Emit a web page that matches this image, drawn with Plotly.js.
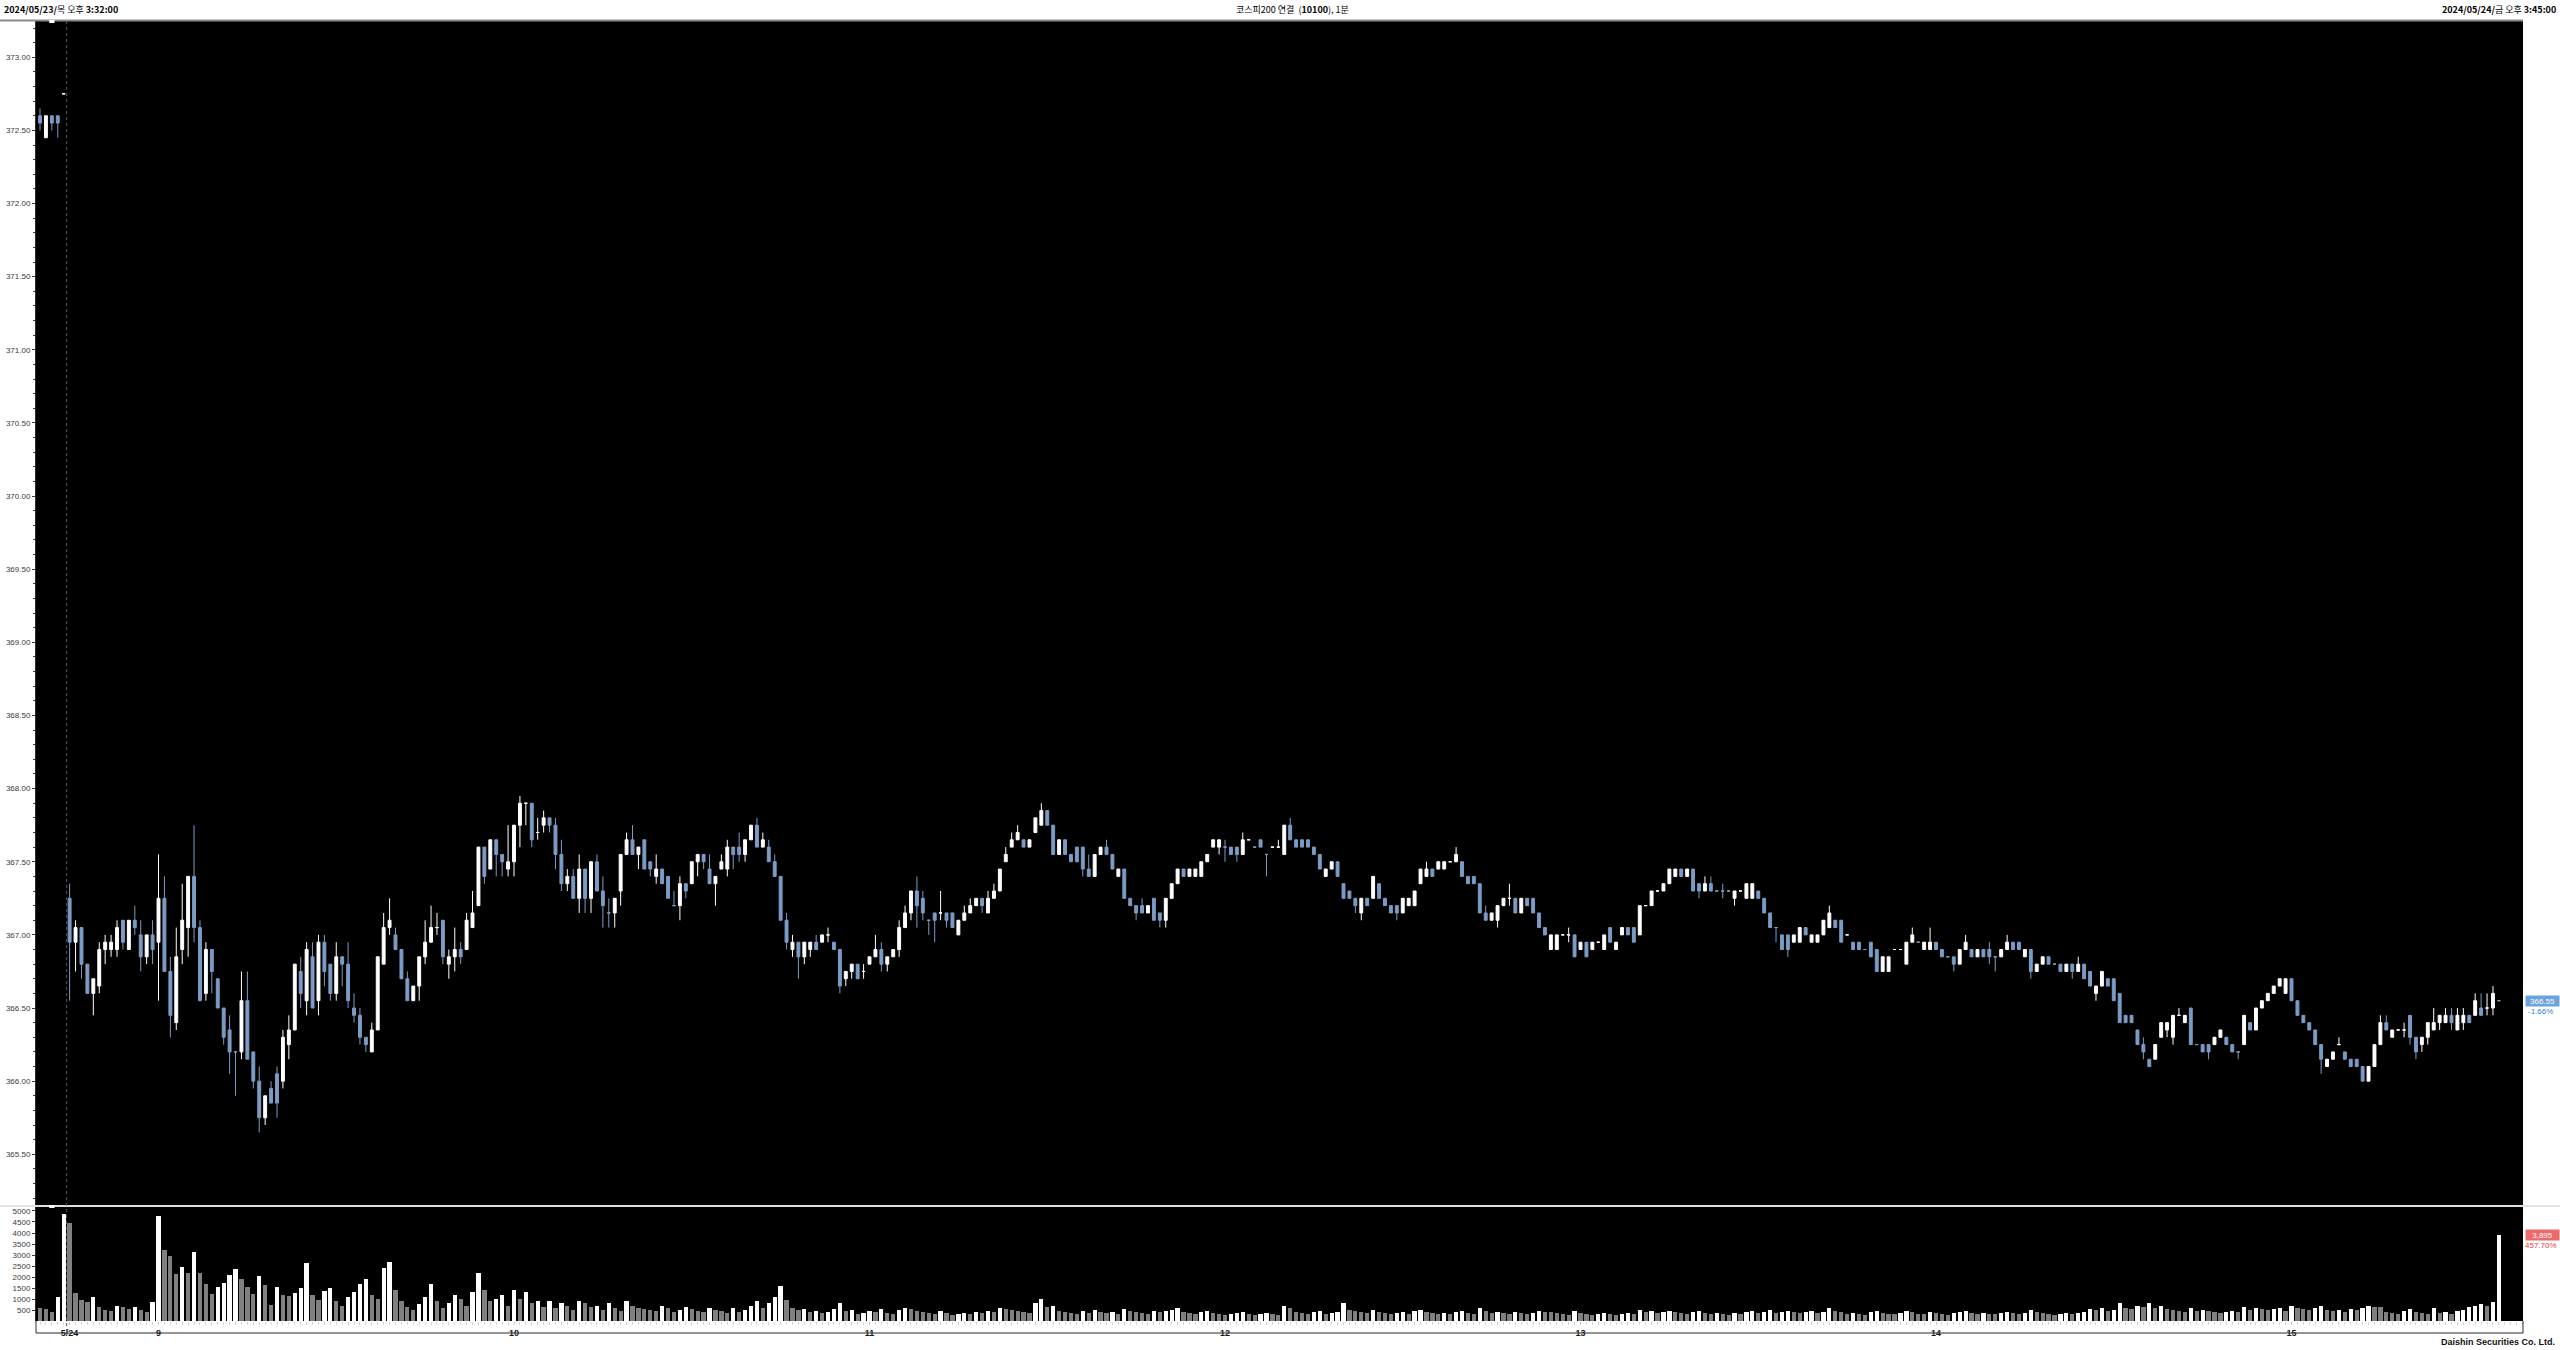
<!DOCTYPE html>
<html>
<head>
<meta charset="utf-8">
<script src="https://cdn.plot.ly/plotly-3.0.1.min.js"></script>
<style>html,body{margin:0;padding:0;background:#fff;}#chart{width:2560px;height:1350px;}</style>
</head>
<body>
<div id="chart"></div>
<script>
// ---- DATA (1-minute bars: 5/23 15:32-15:35, 15:45, then 5/24 08:45-15:34, 15:45) ----
const openP = [
372.60,372.45,372.60,372.60,372.75,367.25,366.95,367.05,366.80,366.60,
366.65,366.90,366.90,366.90,367.10,366.90,367.10,367.00,366.85,367.00,
366.95,367.25,366.75,366.40,366.90,367.05,367.40,367.05,366.60,366.90,
366.70,366.50,366.35,366.20,366.20,366.55,366.20,366.00,365.75,365.95,
366.05,366.00,366.25,366.35,366.75,366.55,366.85,366.55,366.95,366.80,
366.60,366.85,366.80,366.50,366.45,366.30,366.20,366.35,366.80,367.05,
367.00,366.90,366.70,366.55,366.65,366.85,366.95,367.05,367.10,366.80,
366.85,366.90,366.90,367.05,367.20,367.60,367.45,367.65,367.55,367.45,
367.50,367.75,367.90,367.90,367.70,367.75,367.80,367.75,367.55,367.35,
367.40,367.25,367.45,367.25,367.50,367.30,367.15,367.15,367.30,367.55,
367.65,367.55,367.65,367.50,367.40,367.45,367.40,367.20,367.20,367.35,
367.35,367.50,367.55,367.45,367.35,367.45,367.45,367.60,367.60,367.55,
367.65,367.75,367.60,367.60,367.50,367.40,367.10,366.90,366.95,366.85,
366.90,366.95,366.95,367.00,366.95,366.90,366.70,366.75,366.80,366.75,
366.80,366.85,366.90,366.80,366.85,366.90,367.05,367.15,367.30,367.25,
367.10,367.15,367.15,367.15,367.15,367.00,367.10,367.15,367.20,367.25,
367.15,367.25,367.30,367.50,367.60,367.65,367.65,367.60,367.70,367.75,
367.85,367.75,367.55,367.65,367.55,367.60,367.60,367.45,367.40,367.55,
367.60,367.55,367.40,367.45,367.25,367.20,367.20,367.15,367.25,367.15,
367.10,367.25,367.35,367.45,367.40,367.40,367.40,367.50,367.60,367.60,
367.60,367.60,367.60,367.55,367.65,367.60,367.65,367.55,367.60,367.60,
367.55,367.75,367.65,367.65,367.65,367.60,367.55,367.40,367.45,367.50,
367.35,367.30,367.25,367.15,367.25,367.25,367.35,367.25,367.20,367.20,
367.15,367.20,367.20,367.35,367.40,367.45,367.45,367.45,367.50,367.50,
367.50,367.40,367.40,367.35,367.15,367.10,367.10,367.20,367.25,367.25,
367.15,367.25,367.25,367.15,367.05,366.90,366.90,367.00,367.00,367.00,
366.90,366.95,366.90,366.95,366.90,367.05,366.90,367.00,367.05,367.05,
367.00,367.20,367.20,367.30,367.30,367.35,367.40,367.45,367.40,367.45,
367.35,367.30,367.35,367.30,367.30,367.30,367.25,367.30,367.25,367.25,
367.30,367.25,367.15,367.05,367.00,367.00,366.95,366.95,367.05,366.95,
366.95,367.00,367.05,367.10,367.10,367.00,366.95,366.95,366.90,366.95,
366.90,366.75,366.75,366.90,366.90,366.80,366.95,366.95,366.90,366.90,
366.95,366.90,366.85,366.85,366.80,366.90,366.90,366.85,366.90,366.90,
366.85,366.85,366.90,366.95,366.95,366.85,366.90,366.75,366.80,366.85,
366.80,366.80,366.75,366.80,366.75,366.80,366.75,366.60,366.65,366.70,
366.70,366.60,366.45,366.45,366.35,366.25,366.15,366.15,366.30,366.35,
366.30,366.45,366.40,366.50,366.25,366.25,366.25,366.25,366.30,366.30,
366.25,366.20,366.25,366.40,366.35,366.50,366.55,366.60,366.65,366.60,
366.70,366.55,366.45,366.40,366.35,366.25,366.10,366.15,366.25,366.20,
366.15,366.15,366.10,366.00,366.10,366.25,366.40,366.30,366.35,366.35,
366.45,366.30,366.25,366.30,366.35,366.40,366.40,366.45,366.35,366.40,
366.45,366.45,366.50,366.50,366.50,366.55];

const highP = [
372.65,372.60,372.60,372.60,372.75,367.35,367.10,367.05,366.80,366.70,
366.95,367.00,367.00,367.10,367.10,367.10,367.20,367.10,367.00,367.10,
367.55,367.40,366.85,367.05,367.35,367.40,367.75,367.10,366.95,366.90,
366.70,366.50,366.45,366.20,366.75,366.75,366.20,366.10,365.90,366.00,
366.10,366.35,366.45,366.80,366.85,366.95,366.95,367.00,367.00,366.80,
366.95,366.85,366.95,366.60,366.50,366.30,366.40,366.85,367.15,367.25,
367.05,366.90,366.75,366.65,366.85,367.10,367.20,367.15,367.10,366.90,
367.05,366.95,367.15,367.30,367.60,367.60,367.65,367.65,367.55,367.75,
367.75,367.95,367.90,367.90,367.80,367.85,367.80,367.80,367.65,367.45,
367.45,367.55,367.45,367.50,367.55,367.40,367.25,367.25,367.55,367.70,
367.75,367.60,367.65,367.50,367.55,367.45,367.40,367.30,367.40,367.35,
367.50,367.55,367.55,367.55,367.40,367.55,367.65,367.60,367.70,367.65,
367.75,367.80,367.70,367.65,367.55,367.40,367.15,367.00,366.95,366.95,
366.95,367.00,367.00,367.05,366.95,366.90,366.75,366.80,366.80,366.80,
366.85,367.00,366.95,366.85,366.90,367.10,367.20,367.30,367.40,367.30,
367.10,367.15,367.30,367.15,367.15,367.10,367.20,367.25,367.25,367.25,
367.30,367.35,367.45,367.60,367.70,367.75,367.65,367.65,367.80,367.90,
367.85,367.75,367.65,367.65,367.55,367.60,367.60,367.55,367.55,367.60,
367.65,367.55,367.45,367.45,367.25,367.20,367.25,367.20,367.25,367.15,
367.25,367.35,367.45,367.45,367.45,367.45,367.50,367.55,367.65,367.65,
367.65,367.60,367.60,367.70,367.65,367.60,367.65,367.55,367.60,367.65,
367.75,367.80,367.65,367.65,367.65,367.60,367.55,367.45,367.50,367.50,
367.35,367.30,367.25,367.25,367.25,367.40,367.35,367.25,367.20,367.20,
367.25,367.25,367.30,367.45,367.50,367.45,367.50,367.50,367.50,367.60,
367.50,367.40,367.40,367.35,367.20,367.15,367.20,367.25,367.35,367.25,
367.25,367.25,367.25,367.15,367.05,367.00,367.00,367.00,367.05,367.00,
366.95,366.95,366.95,366.95,367.00,367.05,366.95,367.05,367.05,367.05,
367.20,367.20,367.30,367.30,367.35,367.45,367.45,367.45,367.45,367.45,
367.35,367.40,367.40,367.30,367.35,367.30,367.30,367.30,367.35,367.35,
367.30,367.25,367.15,367.05,367.00,367.00,367.00,367.05,367.05,367.00,
367.00,367.10,367.20,367.10,367.10,367.00,366.95,366.95,366.90,366.95,
366.90,366.85,366.85,366.90,366.90,366.95,367.05,366.95,366.95,367.05,
366.95,366.90,366.85,366.85,366.90,367.00,366.90,366.90,366.90,366.95,
366.85,366.90,367.00,366.95,366.95,366.90,366.90,366.80,366.85,366.85,
366.80,366.80,366.80,366.80,366.85,366.80,366.75,366.65,366.75,366.70,
366.70,366.60,366.45,366.45,366.35,366.30,366.15,366.25,366.40,366.40,
366.45,366.50,366.45,366.50,366.25,366.25,366.25,366.30,366.35,366.30,
366.25,366.20,366.45,366.40,366.50,366.55,366.60,366.65,366.70,366.70,
366.70,366.55,366.45,366.40,366.35,366.25,366.15,366.20,366.30,366.20,
366.15,366.15,366.10,366.10,366.25,366.45,366.45,366.35,366.35,366.40,
366.45,366.30,366.30,366.40,366.50,366.45,366.50,366.50,366.50,366.50,
366.45,366.60,366.60,366.60,366.65,366.55];

const lowP = [
372.50,372.45,372.50,372.45,372.75,366.55,366.75,366.70,366.60,366.45,
366.60,366.80,366.85,366.85,366.90,366.90,367.00,366.75,366.80,366.80,
366.55,366.75,366.30,366.35,366.80,366.85,366.95,366.55,366.55,366.60,
366.50,366.25,366.05,365.90,366.15,366.15,365.95,365.65,365.70,365.85,
365.75,365.95,366.15,366.35,366.50,366.45,366.50,366.45,366.65,366.55,
366.55,366.65,366.50,366.40,366.25,366.20,366.20,366.35,366.80,367.00,
366.90,366.70,366.55,366.55,366.55,366.80,366.95,367.00,366.80,366.70,
366.75,366.80,366.90,367.05,367.20,367.35,367.45,367.40,367.40,367.40,
367.40,367.60,367.75,367.60,367.65,367.70,367.70,367.45,367.30,367.30,
367.25,367.15,367.15,367.15,367.30,367.05,367.05,367.05,367.20,367.55,
367.55,367.45,367.45,367.40,367.35,367.35,367.25,367.20,367.10,367.25,
367.35,367.40,367.45,367.35,367.20,367.45,367.40,367.45,367.50,367.50,
367.65,367.60,367.60,367.50,367.40,367.10,366.90,366.85,366.70,366.80,
366.85,366.90,366.95,366.95,366.90,366.60,366.65,366.70,366.70,366.70,
366.80,366.85,366.75,366.75,366.85,366.85,367.05,367.10,367.05,367.10,
367.00,366.95,367.10,367.05,367.05,367.00,367.10,367.15,367.20,367.15,
367.15,367.25,367.30,367.50,367.60,367.65,367.60,367.60,367.70,367.75,
367.75,367.55,367.55,367.55,367.50,367.50,367.40,367.40,367.40,367.55,
367.55,367.45,367.40,367.25,367.20,367.10,367.15,367.15,367.10,367.05,
367.05,367.25,367.35,367.40,367.40,367.40,367.40,367.50,367.60,367.55,
367.50,367.55,367.50,367.55,367.65,367.60,367.60,367.40,367.60,367.60,
367.55,367.65,367.60,367.60,367.60,367.55,367.45,367.40,367.45,367.40,
367.25,367.25,367.15,367.10,367.20,367.25,367.25,367.20,367.15,367.10,
367.15,367.20,367.20,367.35,367.40,367.40,367.45,367.45,367.50,367.50,
367.40,367.35,367.35,367.15,367.10,367.10,367.05,367.20,367.20,367.15,
367.15,367.20,367.15,367.05,367.00,366.90,366.90,367.00,366.95,366.85,
366.90,366.85,366.90,366.95,366.90,366.95,366.90,367.00,367.00,366.95,
367.00,367.20,367.20,367.30,367.30,367.35,367.40,367.40,367.40,367.30,
367.25,367.30,367.30,367.30,367.25,367.30,367.20,367.30,367.25,367.25,
367.25,367.15,367.05,366.95,366.90,366.85,366.95,366.95,367.00,366.95,
366.95,367.00,367.05,367.05,366.95,367.00,366.90,366.90,366.90,366.85,
366.75,366.75,366.75,366.90,366.90,366.80,366.95,366.95,366.90,366.90,
366.90,366.85,366.85,366.75,366.80,366.90,366.85,366.85,366.85,366.80,
366.75,366.85,366.90,366.90,366.90,366.85,366.70,366.75,366.80,366.80,
366.80,366.75,366.75,366.70,366.75,366.70,366.65,366.55,366.65,366.65,
366.55,366.40,366.40,366.40,366.25,366.15,366.10,366.15,366.30,366.30,
366.25,366.45,366.40,366.25,366.25,366.20,366.15,366.25,366.30,366.25,
366.20,366.15,366.25,366.35,366.35,366.50,366.55,366.60,366.65,366.60,
366.55,366.45,366.40,366.35,366.25,366.05,366.10,366.15,366.25,366.15,
366.10,366.10,366.00,366.00,366.10,366.25,366.35,366.30,366.35,366.30,
366.25,366.15,366.20,366.25,366.35,366.35,366.40,366.35,366.35,366.35,
366.40,366.45,366.45,366.45,366.45,366.55];

const closeP = [
372.55,372.60,372.55,372.55,372.75,366.95,367.05,366.80,366.60,366.70,
366.90,366.95,366.95,367.05,366.95,367.10,367.05,366.85,367.00,366.90,
367.25,366.75,366.45,366.85,367.10,367.40,367.05,366.55,366.90,366.75,
366.50,366.30,366.20,366.20,366.55,366.15,366.00,365.75,365.90,365.85,
365.85,366.30,366.35,366.80,366.60,366.90,366.50,366.95,366.75,366.60,
366.85,366.80,366.55,366.45,366.30,366.25,366.35,366.85,367.05,367.10,
366.90,366.70,366.55,366.65,366.85,366.95,367.05,367.05,366.85,366.85,
366.90,366.85,367.10,367.15,367.60,367.40,367.65,367.55,367.50,367.50,
367.75,367.90,367.90,367.65,367.70,367.80,367.75,367.55,367.35,367.40,
367.25,367.45,367.25,367.50,367.30,367.20,367.15,367.25,367.55,367.65,
367.55,367.60,367.45,367.45,367.45,367.35,367.25,367.20,367.35,367.30,
367.50,367.55,367.50,367.35,367.40,367.50,367.60,367.55,367.55,367.65,
367.75,367.60,367.65,367.50,367.40,367.10,366.95,366.95,366.85,366.95,
366.95,366.90,367.00,367.00,366.90,366.65,366.75,366.80,366.70,366.75,
366.85,366.90,366.80,366.85,366.90,367.05,367.15,367.30,367.20,367.15,
367.10,367.10,367.15,367.10,367.05,367.10,367.15,367.20,367.25,367.20,
367.25,367.30,367.45,367.55,367.65,367.70,367.60,367.65,367.80,367.85,
367.75,367.55,367.65,367.55,367.50,367.50,367.45,367.40,367.55,367.60,
367.55,367.45,367.45,367.25,367.20,367.15,367.15,367.20,367.10,367.10,
367.25,367.35,367.45,367.40,367.45,367.45,367.50,367.55,367.65,367.65,
367.60,367.55,367.55,367.65,367.65,367.60,367.60,367.55,367.60,367.60,
367.75,367.65,367.60,367.60,367.60,367.55,367.45,367.45,367.50,367.40,
367.25,367.25,367.20,367.25,367.20,367.40,367.25,367.20,367.15,367.15,
367.25,367.25,367.30,367.45,367.45,367.40,367.50,367.50,367.50,367.55,
367.40,367.35,367.35,367.15,367.10,367.15,367.20,367.25,367.25,367.15,
367.25,367.20,367.15,367.05,367.00,367.00,367.00,367.00,367.00,366.85,
366.95,366.85,366.95,366.95,367.00,366.95,366.95,367.05,367.00,366.95,
367.20,367.20,367.30,367.30,367.35,367.45,367.45,367.40,367.45,367.30,
367.30,367.35,367.30,367.30,367.30,367.30,367.30,367.30,367.35,367.35,
367.25,367.15,367.05,367.05,366.90,366.90,367.00,367.05,367.00,367.00,
367.00,367.10,367.15,367.05,366.95,367.00,366.90,366.90,366.90,366.85,
366.75,366.85,366.85,366.90,366.90,366.95,367.00,366.95,366.95,366.95,
366.90,366.85,366.85,366.80,366.90,366.95,366.85,366.90,366.85,366.85,
366.85,366.90,366.95,366.90,366.90,366.90,366.75,366.80,366.85,366.80,
366.80,366.75,366.80,366.75,366.80,366.70,366.65,366.65,366.75,366.65,
366.55,366.40,366.40,366.40,366.25,366.20,366.10,366.25,366.40,366.40,
366.45,366.45,366.45,366.25,366.25,366.20,366.20,366.30,366.35,366.25,
366.20,366.20,366.45,366.35,366.50,366.55,366.60,366.65,366.70,366.70,
366.55,366.45,366.40,366.35,366.25,366.15,366.15,366.20,366.25,366.15,
366.10,366.10,366.00,366.10,366.25,366.40,366.35,366.35,366.35,366.35,
366.30,366.20,366.30,366.40,366.40,366.45,366.45,366.40,366.45,366.45,
366.40,366.55,366.45,366.50,366.60,366.55];

const volume = [
590,530,410,1075,4850,4440,1260,955,865,1075,
650,500,470,680,650,530,620,500,395,865,
4790,3230,2955,2135,2440,2165,3150,2195,1665,1225,
1560,1740,2105,2350,1895,1530,1225,2045,1620,740,
1530,1195,1135,1290,1500,2650,1200,950,1350,1500,
900,700,1100,1300,1700,1900,1200,1000,2400,2700,
1400,900,650,500,750,1100,1700,900,600,800,
1200,1000,700,1300,2200,1400,900,1000,1200,700,
1400,1000,1300,800,900,650,900,600,800,700,
500,900,800,650,700,500,800,600,450,900,
700,600,550,500,450,700,600,400,500,650,
550,450,400,600,500,450,350,600,400,500,
700,900,600,800,1100,1600,950,600,500,550,
400,450,350,400,550,800,450,500,300,350,
450,400,550,350,300,500,600,550,450,400,
350,300,450,350,250,300,350,300,400,350,
450,400,600,550,500,450,400,350,800,1000,
650,700,450,400,350,300,450,350,500,400,
350,400,300,550,450,400,350,300,450,400,
450,500,600,400,350,300,400,450,350,300,
250,300,350,400,300,250,300,350,300,250,
700,600,400,350,300,400,450,300,350,400,
800,500,450,400,350,500,400,350,300,350,
400,300,450,500,400,350,300,350,300,400,
450,350,300,600,450,350,400,350,300,400,
350,300,350,450,400,400,350,300,250,450,
350,300,250,300,350,300,250,300,350,300,
500,400,450,350,400,450,400,350,300,400,
450,350,300,350,300,250,350,300,400,450,
350,400,500,350,400,450,400,350,400,450,
350,400,600,450,400,300,350,300,250,400,
450,350,300,300,350,450,400,300,300,400,
350,300,250,350,400,450,350,300,350,300,
300,350,400,350,300,350,500,400,350,300,
250,300,350,300,350,400,550,500,600,450,
500,800,600,550,700,650,800,600,700,550,
500,450,400,600,450,500,450,400,350,400,
450,400,650,500,600,550,500,550,600,450,
700,600,550,500,600,700,500,450,500,400,
550,500,600,700,650,650,400,350,300,450,
550,400,350,300,600,350,400,300,450,500,
650,700,750,700,851,3895];

// tick labels
const xTickIdx  = [5, 20, 80, 140, 200, 260, 320, 380];
const xTickText = ['5/24', '9', '10', '11', '12', '13', '14', '15'];
const priceTicks = [365.5, 366.0, 366.5, 367.0, 367.5, 368.0, 368.5, 369.0, 369.5, 370.0, 370.5, 371.0, 371.5, 372.0, 372.5, 373.0];
const volTicks = [500, 1000, 1500, 2000, 2500, 3000, 3500, 4000, 4500, 5000];
const prevDayClose = 372.75;   // 5/23 closing bar
const dayBreakIdx = 4.5;        // between 5/23 and 5/24

// ---- BUILD ----
const idx = openP.map((_, i) => i);
const volColors = volume.map((v, i) => (i > 0 && v > volume[i - 1]) ? '#ffffff' : '#808080');
const lastClose = closeP[closeP.length - 1];
const lastVol = volume[volume.length - 1];
const prevVol = volume[volume.length - 2];
const chgPct = (lastClose / prevDayClose - 1) * 100;
const volPct = lastVol / prevVol * 100;

const W = 2560, H = 1350, ML = 36, MR = 37, MT = 21, MB = 29;
const PW = W - ML - MR, PH = H - MT - MB;
const px = x => (x - ML) / PW;           // pixel x -> paper
const py = y => (H - MB - y) / PH;       // pixel y -> paper

const axFont = {family: 'Liberation Sans, Arial, sans-serif', size: 8, color: '#3a3a3a'};
const hdrFont = {family: 'Noto Sans CJK KR, Liberation Sans', size: 9, color: '#000'};

const traces = [
  {
    type: 'candlestick', x: idx, open: openP, high: highP, low: lowP, close: closeP,
    xaxis: 'x', yaxis: 'y', whiskerwidth: 0, hoverinfo: 'skip',
    increasing: {line: {color: '#ffffff', width: 1}, fillcolor: '#ffffff'},
    decreasing: {line: {color: '#7b9cc5', width: 1}, fillcolor: '#7b9cc5'}
  },
  {
    type: 'bar', x: idx, y: volume, xaxis: 'x', yaxis: 'y2', width: 0.72,
    marker: {color: volColors, line: {width: 0}}, hoverinfo: 'skip'
  }
];

const priceRange = [365.153, 373.248];
const volRange = [0, 5182];
const yCommon = {
  showgrid: false, zeroline: false, showline: true, linecolor: '#2a2a2a', linewidth: 1,
  ticks: 'outside', ticklen: 3, tickcolor: '#3a3a3a', tickfont: axFont, fixedrange: true
};

const layout = {
  width: W, height: H,
  margin: {l: ML, r: MR, t: MT, b: MB, pad: 0},
  paper_bgcolor: '#ffffff', plot_bgcolor: '#000000',
  showlegend: false, bargap: 0,
  font: {family: 'Liberation Sans, Arial, sans-serif'},
  xaxis: {
    domain: [0, 1], anchor: 'y2', range: [-0.675, 419.07],
    tickmode: 'array', tickvals: xTickIdx, ticktext: xTickText,
    ticks: 'outside', ticklen: 3, tickcolor: '#c8c8c8',
    minor: {dtick: 1, tick0: 0, ticks: 'outside', ticklen: 3, tickcolor: '#d6d6d6', showgrid: false},
    tickfont: {family: 'Liberation Sans, Arial, sans-serif', size: 9, color: '#1a1a1a', weight: 'bold'},
    showgrid: false, zeroline: false, showline: false,
    rangeslider: {visible: false}, fixedrange: true
  },
  yaxis: Object.assign({}, yCommon, {
    domain: [0.0892, 1], anchor: 'x', side: 'left', range: priceRange,
    tickmode: 'array', tickvals: priceTicks, ticktext: priceTicks.map(v => v.toFixed(2)),
    minor: {dtick: 0.1, tick0: 0, ticks: 'outside', ticklen: 2, tickcolor: '#3a3a3a', showgrid: false}
  }),
  yaxis3: Object.assign({}, yCommon, {
    overlaying: 'y', anchor: 'x', side: 'right', range: priceRange,
    tickmode: 'array', tickvals: priceTicks, ticktext: priceTicks.map(v => v.toFixed(2)),
    minor: {dtick: 0.1, tick0: 0, ticks: 'outside', ticklen: 2, tickcolor: '#3a3a3a', showgrid: false}
  }),
  yaxis2: Object.assign({}, yCommon, {
    domain: [0, 0.0877], anchor: 'x', side: 'left', range: volRange,
    tickmode: 'array', tickvals: volTicks, ticktext: volTicks.map(String)
  }),
  yaxis4: Object.assign({}, yCommon, {
    overlaying: 'y2', anchor: 'x', side: 'right', range: volRange,
    tickmode: 'array', tickvals: volTicks, ticktext: volTicks.map(String)
  }),
  shapes: [
    {type: 'line', xref: 'paper', yref: 'paper', x0: px(0), x1: 1, y0: py(20.5), y1: py(20.5), line: {color: '#8a8a8a', width: 2}},
    {type: 'line', xref: 'paper', yref: 'paper', x0: px(0), x1: px(2560), y0: py(1206), y1: py(1206), line: {color: '#c4c4c4', width: 1}},
    {type: 'line', xref: 'paper', yref: 'paper', x0: 0, x1: 1, y0: py(1333), y1: py(1333), line: {color: '#2a2a2a', width: 1}},
    {type: 'line', xref: 'paper', yref: 'paper', x0: 0, x1: 0, y0: py(1333), y1: 0, line: {color: '#2a2a2a', width: 1}},
    {type: 'line', xref: 'paper', yref: 'paper', x0: 1, x1: 1, y0: py(1333), y1: 0, line: {color: '#2a2a2a', width: 1}},
    {type: 'line', xref: 'x', yref: 'paper', x0: dayBreakIdx, x1: dayBreakIdx, y0: py(1332), y1: 1, line: {color: '#5a5a5a', width: 1, dash: 'dot'}},
    {type: 'rect', xref: 'x', yref: 'paper', x0: 1.55, x1: 2.45, y0: py(23), y1: py(20), fillcolor: '#ffffff', line: {width: 0}},
    {type: 'rect', xref: 'x', yref: 'paper', x0: 1.55, x1: 2.45, y0: py(1208), y1: py(1205), fillcolor: '#ffffff', line: {width: 0}}
  ],
  annotations: [
    {xref: 'paper', yref: 'paper', x: px(2), y: py(10), xanchor: 'left', yanchor: 'middle', showarrow: false,
     text: '<b>2024/05/23/</b>목 오후 <b>3:32:00</b>', font: hdrFont},
    {xref: 'paper', yref: 'paper', x: px(1292), y: py(10), xanchor: 'center', yanchor: 'middle', showarrow: false,
     text: '코스피200 연결  (<b>10100</b>), 1분', font: hdrFont},
    {xref: 'paper', yref: 'paper', x: px(2558), y: py(10), xanchor: 'right', yanchor: 'middle', showarrow: false,
     text: '<b>2024/05/24/</b>금 오후 <b>3:45:00</b>', font: hdrFont},
    {xref: 'paper', yref: 'paper', x: px(2557), y: py(1342), xanchor: 'right', yanchor: 'middle', showarrow: false,
     text: '<b>Daishin Securities Co. Ltd.</b>', font: {family: 'Liberation Sans, Arial', size: 9, color: '#111'}},
    {xref: 'paper', yref: 'y', x: px(2525), y: lastClose, xanchor: 'left', yanchor: 'middle', showarrow: false,
     width: 33, height: 10, bgcolor: '#6aa3de', borderpad: 0, align: 'center',
     text: lastClose.toFixed(2), font: {family: 'Liberation Sans, Arial', size: 8, color: '#ffffff'}},
    {xref: 'paper', yref: 'y', x: px(2541), y: lastClose, yshift: -11, xanchor: 'center', yanchor: 'middle', showarrow: false,
     text: chgPct.toFixed(2) + '%', font: {family: 'Liberation Sans, Arial', size: 8, color: '#2f7fd8'}},
    {xref: 'paper', yref: 'y2', x: px(2525), y: lastVol, xanchor: 'left', yanchor: 'middle', showarrow: false,
     width: 33, height: 10, bgcolor: '#ee6a6a', borderpad: 0, align: 'center',
     text: lastVol.toLocaleString('en-US'), font: {family: 'Liberation Sans, Arial', size: 8, color: '#ffffff'}},
    {xref: 'paper', yref: 'y2', x: px(2541), y: lastVol, yshift: -10, xanchor: 'center', yanchor: 'middle', showarrow: false,
     text: volPct.toFixed(2) + '%', font: {family: 'Liberation Sans, Arial', size: 8, color: '#e03c3c'}}
  ]
};

Plotly.newPlot('chart', traces, layout, {staticPlot: true, displayModeBar: false});
</script>
</body>
</html>
